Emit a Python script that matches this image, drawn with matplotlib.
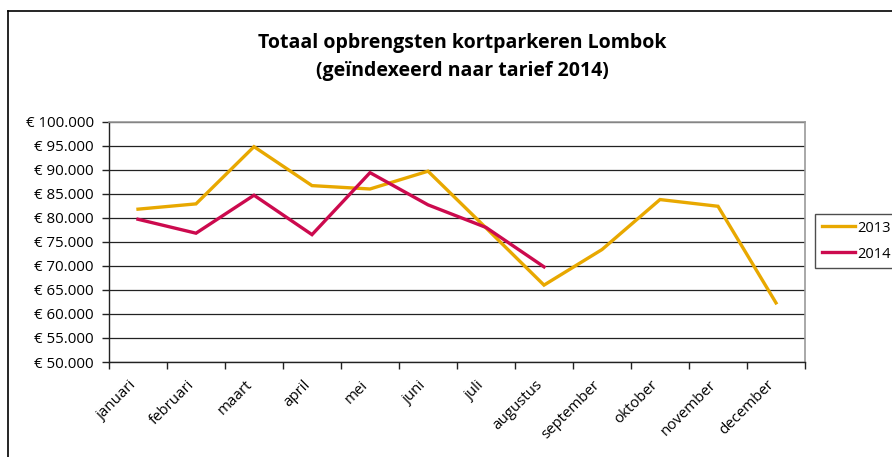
import matplotlib
matplotlib.use("Agg")
import matplotlib.pyplot as plt
from matplotlib import font_manager
from matplotlib.ticker import FuncFormatter, FixedLocator
from matplotlib.lines import Line2D
import matplotlib.transforms as mtransforms

months = ["januari", "februari", "maart", "april", "mei", "juni", "juli",
          "augustus", "september", "oktober", "november", "december"]
values_2013 = [81800, 82900, 94800, 86700, 86000, 89700, 77900, 66000,
               73400, 83800, 82400, 62300]
values_2014 = [79700, 76800, 84700, 76500, 89400, 82700, 78000, 69800]
series_labels = ["2013", "2014"]
title_text = "Totaal opbrengsten kortparkeren Lombok\n(geïndexeerd naar tarief 2014)"

available = {f.name for f in font_manager.fontManager.ttflist}
def pick(*names):
    for n in names:
        if n in available:
            return n
    return "DejaVu Sans"

title_font = pick("Liberation Sans Narrow", "Open Sans", "Lato")
tick_font = pick("Open Sans", "Lato", "Noto Sans")

W, H = 892, 457
fig = plt.figure(figsize=(W / 100, H / 100), dpi=100)
fig.patch.set_facecolor("white")

# outer frame (partly cut off on the right and bottom)
fx0, fy0 = 8 / W, 1 - 11 / H
fig.add_artist(Line2D([fx0, fx0], [fy0, -0.1], transform=fig.transFigure,
                      color="black", lw=1.2))
fig.add_artist(Line2D([fx0, 1.1], [fy0, fy0], transform=fig.transFigure,
                      color="black", lw=1.2))

left, right, top, bottom = 109, 805, 121.7, 362
ax = fig.add_axes([left / W, 1 - bottom / H, (right - left) / W, (bottom - top) / H])

x = list(range(len(months)))
c2013 = "#E8A800"
c2014 = "#CC0A4E"
ax.plot(x, values_2013, color=c2013, lw=2.4, label=series_labels[0],
        solid_joinstyle="miter", zorder=3)
ax.plot(x[:len(values_2014)], values_2014, color=c2014, lw=2.4,
        label=series_labels[1], solid_joinstyle="miter", zorder=4)

ax.set_xlim(-0.5, len(months) - 0.5)
ax.set_ylim(50000, 100000)
ax.set_yticks(range(50000, 100001, 5000))
ax.yaxis.set_major_formatter(FuncFormatter(
    lambda v, p: "€ " + f"{int(v):,}".replace(",", ".")))
ax.grid(axis="y", color="#222222", lw=0.9)
ax.set_axisbelow(True)

# x ticks at category boundaries, labels at centers
ax.xaxis.set_major_locator(FixedLocator([i - 0.5 for i in range(len(months) + 1)]))
ax.xaxis.set_major_formatter(FuncFormatter(lambda v, p: ""))
ax.xaxis.set_minor_locator(FixedLocator(x))
ax.set_xticklabels(months, minor=True)
ax.tick_params(axis="x", which="major", length=5, width=1, color="#222222")
ax.tick_params(axis="x", which="minor", length=0, pad=15)
ax.tick_params(axis="y", length=5, width=1, color="#222222", pad=6)

for lab in ax.get_xticklabels(minor=True):
    lab.set_rotation(45)
    lab.set_ha("right")
    lab.set_va("center")
    lab.set_rotation_mode("anchor")
    lab.set_fontfamily(tick_font)
    lab.set_fontsize(10.8)
    lab.set_transform(lab.get_transform() + mtransforms.ScaledTranslation(-4 / 100, 0, fig.dpi_scale_trans))
for lab in ax.get_yticklabels():
    lab.set_fontfamily(tick_font)
    lab.set_fontsize(10.8)

for side in ["left", "bottom"]:
    ax.spines[side].set_color("#222222")
    ax.spines[side].set_linewidth(1.0)
for side in ["top", "right"]:
    ax.spines[side].set_color("#9a9a9a")
    ax.spines[side].set_linewidth(1.2)

fig.text(462 / W, 1 - 57 / H, title_text, ha="center", va="center",
         fontsize=14, fontweight="bold", fontfamily=title_font, linespacing=1.55)

leg = fig.legend(loc="upper left", bbox_to_anchor=(815 / W, 1 - 214 / H),
                 borderaxespad=0, frameon=True, fancybox=False, shadow=False,
                 prop={"family": tick_font, "size": 10.5}, handlelength=2.3,
                 handletextpad=0.15, labelspacing=0.75, borderpad=0.45)
leg.get_frame().set_edgecolor("#222222")
leg.get_frame().set_linewidth(1.0)

fig.savefig("out.png", dpi=100)
